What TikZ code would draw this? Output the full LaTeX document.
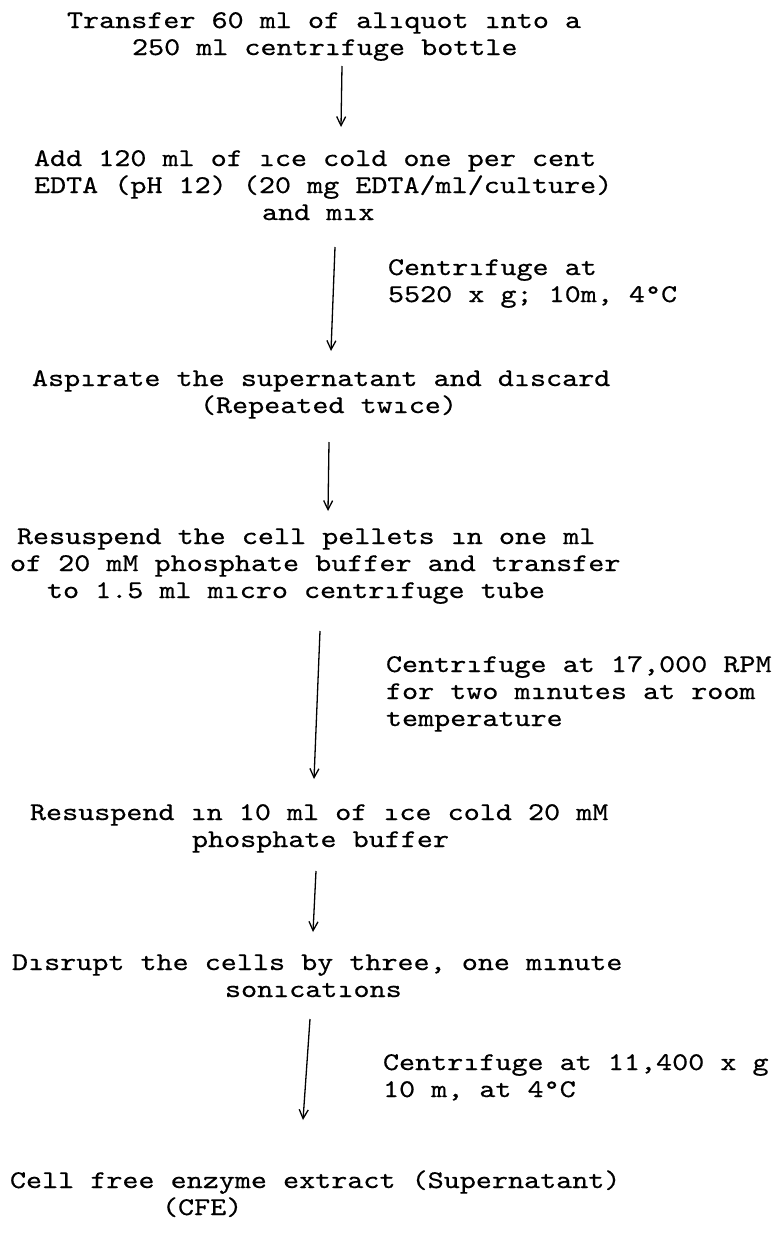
\documentclass[tikz,border=0pt]{standalone}
\usepackage{fontspec}
\setmonofont[FakeStretch=1.2,FakeBold=0.5]{lmmono10-regular.otf}
\usetikzlibrary{arrows.meta}
\tikzset{
  txt/.style={anchor=base west, inner sep=0pt, outer sep=0pt,
    font=\ttfamily\fontsize{25.5}{27}\selectfont\frenchspacing},
  conn/.style={line width=1.3pt, -{Straight Barb[length=9pt,width=9pt,line width=1.3pt]}},
}
\begin{document}
\begin{tikzpicture}[x=1pt,y=-1pt]
\useasboundingbox (0,0) rectangle (774,1237);
% block 1
\node[txt] (b1a) at (67,28)  {Transfer 60 ml of alıquot ınto a};
\node[txt] (b1b) at (132,55) {250 ml centrıfuge bottle};
% block 2
\node[txt] (b2a) at (34,166) {Add 120 ml of ıce cold one per cent};
\node[txt] (b2b) at (34,193) {EDTA (pH 12) (20 mg EDTA/ml/culture)};
\node[txt] (b2c) at (262,220) {and mıx};
% label a
\node[txt] (la1) at (388,275) {Centrıfuge at};
\node[txt] (la2) at (388,302) {5520 x g; 10m, 4°C};
% block 3
\node[txt] (b3a) at (32,386) {Aspırate the supernatant and dıscard};
\node[txt] (b3b) at (200,413) {(Repeated twıce)};
% block 4
\node[txt] (b4a) at (17,544) {Resuspend the cell pellets ın one ml};
\node[txt] (b4b) at (10,571) {of 20 mM phosphate buffer and transfer};
\node[txt] (b4c) at (47,598) {to 1.5 ml mıcro centrıfuge tube};
% label b
\node[txt] (lb1) at (386,672) {Centrıfuge at 17,000 RPM};
\node[txt] (lb2) at (386,699) {for two mınutes at room};
\node[txt] (lb3) at (386,726) {temperature};
% block 5
\node[txt] (b5a) at (30,820) {Resuspend ın 10 ml of ıce cold 20 mM};
\node[txt] (b5b) at (192,847) {phosphate buffer};
% block 6
\node[txt] (b6a) at (12,970) {Dısrupt the cells by three, one mınute};
\node[txt] (b6b) at (225,997) {sonıcatıons};
% label c
\node[txt] (lc1) at (383,1070) {Centrıfuge at 11,400 x g};
\node[txt] (lc2) at (383,1097) {10 m, at 4°C};
% block 7
\node[txt] (b7a) at (10,1188) {Cell free enzyme extract (Supernatant)};
\node[txt] (b7b) at (162,1215) {(CFE)};
% arrow ends
\coordinate (a1s) at (342,66);   \coordinate (a1e) at (341,127);
\coordinate (a2s) at (335,247);  \coordinate (a2e) at (331,351);
\coordinate (a3s) at (329,442);  \coordinate (a3e) at (328,511);
\coordinate (a4s) at (320,631);  \coordinate (a4e) at (314,779);
\coordinate (a5s) at (316,871);  \coordinate (a5e) at (313,932);
\coordinate (a6s) at (310,1019); \coordinate (a6e) at (303,1120);
\draw[conn] (a1s) -- (a1e);
\draw[conn] (a2s) -- (a2e);
\draw[conn] (a3s) -- (a3e);
\draw[conn] (a4s) -- (a4e);
\draw[conn] (a5s) -- (a5e);
\draw[conn] (a6s) -- (a6e);
\end{tikzpicture}
\end{document}
